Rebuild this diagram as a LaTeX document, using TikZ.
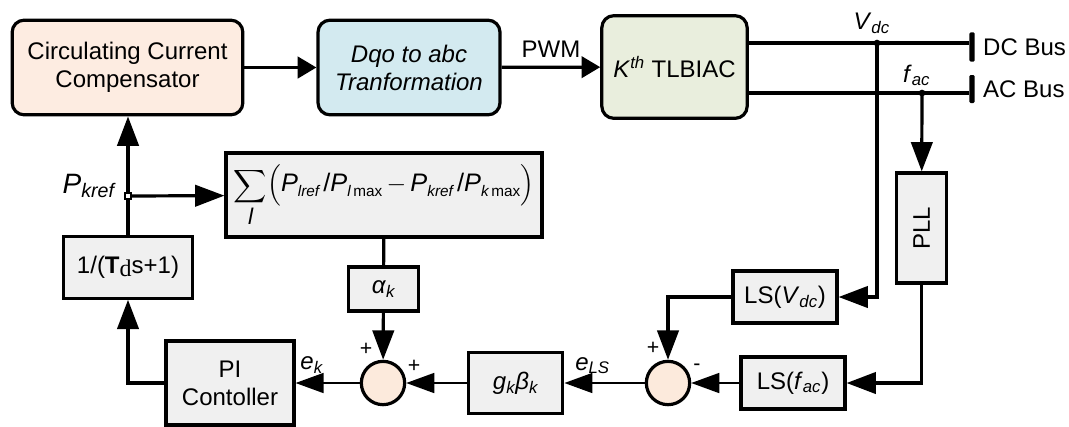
\documentclass[tikz,border=0pt]{standalone}
\usepackage{fix-cm}
\usepackage{amsmath}
\usepackage{fontspec}
\setmainfont{Liberation Sans}
\newfontfamily\tdfont{Liberation Serif}
\usepackage{graphicx}
\usetikzlibrary{arrows.meta, positioning, calc}
\definecolor{peach1}{RGB}{253, 236, 225}
\definecolor{cyan1}{RGB}{211, 234, 240}
\definecolor{olive1}{RGB}{233, 238, 221}
\definecolor{block1}{RGB}{240, 240, 240}
\definecolor{sumfill}{RGB}{252, 234, 220}
\newcommand{\itsub}[2]{\textit{#1}\textsubscript{\itshape #2}}
\newcommand{\psub}[2]{\textit{#1}\raisebox{-0.2em}{\fontsize{11.5}{12}\selectfont #2}}

\begin{document}
\begin{tikzpicture}[x=0.75pt, y=-0.75pt, font=\fontsize{18}{21}\selectfont,
  blk/.style={draw, line width=2.4pt, fill=block1, inner sep=0pt, align=center},
  topblk/.style={draw, line width=2.4pt, rounded corners=9pt, inner sep=0pt, align=center, minimum height=71pt},
  sumnode/.style={draw, circle, line width=2.4pt, fill=sumfill, minimum size=32.5pt, inner sep=0pt},
  arr/.style={line width=2.4pt, -{Triangle[length=22pt, width=16pt]}},
  tarr/.style={line width=1.2pt, -{Triangle[length=21pt, width=15pt]}},
  sarr/.style={line width=2.4pt, -{Triangle[length=14pt, width=16pt]}},
  busbar/.style={fill=black, rounded corners=1pt, minimum width=4pt, inner sep=0pt},
  sign/.style={font=\fontsize{16}{18}\selectfont, inner sep=0pt}]

  \useasboundingbox (0,0) rectangle (1069,426);

  % Top row
  \node[topblk, fill=peach1, minimum width=173pt] (ccc) at (127.5,67.5) {Circulating Current\\Compensator};
  \node[topblk, fill=cyan1, minimum width=136.5pt, font=\fontsize{18}{21}\selectfont\itshape] (dqo) at (409,67.5) {Dqo to abc\\Tranformation};
  \node[topblk, fill=olive1, minimum width=109pt, minimum height=77pt] (kth) at (674.5,67) {\textit{K}\textsuperscript{\itshape th} TLBIAC};

  % Buses
  \coordinate (vdc) at (877,43);
  \coordinate (fac) at (922,93);
  \node[busbar, minimum height=22pt] (dcbar) at (972,47) {};
  \node[busbar, minimum height=21pt] (acbar) at (972,89) {};
  \node[right=6pt of dcbar, inner sep=0pt] (dctxt) {DC Bus};
  \node[right=6pt of acbar, inner sep=0pt] (actxt) {AC Bus};
  \draw[line width=2.4pt] (kth.east |- vdc) -- (dcbar.west |- vdc);
  \draw[line width=2.4pt] (kth.east |- fac) -- (acbar.west |- fac);
  \node[above=7pt of vdc, xshift=-4pt, inner sep=0pt] (vdclbl) {\itsub{V}{dc}};
  \node[above=5pt of fac, xshift=-4pt, inner sep=0pt] (faclbl) {\itsub{f}{ac}};

  % Feedback blocks
  \node[blk, minimum width=38pt, minimum height=82.5pt] (pll) at (921.5,228) {\rotatebox{90}{PLL}};
  \node[blk, minimum width=78pt, minimum height=39pt] (lsv) at (785,297) {LS(\itsub{V}{dc})};
  \node[blk, minimum width=78pt, minimum height=39pt] (lsf) at (793,383) {LS(\itsub{f}{ac})};
  \node[sumnode] (sumb) at (668,383) {};
  \node[blk, minimum width=71pt, minimum height=46pt] (gain) at (515.5,383) {\itsub{g}{k}\textit{β}\textsubscript{\itshape k}};
  \node[sumnode] (suma) at (383,383) {};
  \node[blk, minimum width=96pt, minimum height=63pt] (pi) at (230,383) {PI\\Contoller};
  \node[blk, minimum width=96.75pt, minimum height=46pt] (lpf) at (128,267.5) {1/(\textbf{T}{\tdfont\raisebox{-2pt}{d}}s+1)};
  \node[blk, minimum width=237pt, minimum height=63pt, font=\fontsize{19}{22}\selectfont] (share) at (384,195)
    {{\fontsize{17}{20}\selectfont$\displaystyle\sum_{\mbox{\itshape l}}$}$\Bigl($\psub{P}{\itshape lref}\,/\psub{P}{\itshape l\,\upshape max}\,$-$\,\psub{P}{\itshape kref}\,/\psub{P}{\itshape k\,\upshape max}$\Bigr)$};
  \node[blk, minimum width=52pt, minimum height=33pt] (alpha) at (383.5,289) {\textit{α}\textsubscript{\itshape k}};

  % Signs at the summing points
  \node[sign] at (366,349) {+};
  \node[sign] at (414,366) {+};
  \node[sign] at (653,348) {+};
  \node[sign] at (697,367) {-};

  % Connections
  \draw[sarr] (ccc) -- (dqo);
  \draw[sarr] (dqo) -- node[above=3pt]{PWM} (kth);
  \draw[arr] (vdc) |- (lsv);
  \draw[arr] (fac) -- (pll);
  \draw[arr] (pll) |- (lsf);
  \draw[arr] (lsv) -| (sumb);
  \draw[tarr] (lsf) -- (sumb);
  \draw[tarr] (sumb) -- node[above=3pt, pos=0.65]{\itsub{e}{LS}} (gain);
  \draw[tarr] (gain) -- (suma);
  \draw[tarr] (suma) -- node[above=3pt, pos=0.75]{\itsub{e}{k}} (pi);
  \draw[arr] (pi) -| (lpf);
  \coordinate (pk) at (128,196);
  \draw[arr] (lpf) -- (lpf.north |- ccc.south);
  \draw[arr] (pk) -- (share);
  \draw[line width=2.4pt] (share) -- (alpha);
  \draw[arr] (alpha) -- (suma);
  \fill (vdc) circle (2.5pt) (fac) circle (2.5pt);
  \node[draw, fill=white, line width=1.2pt, minimum size=4.5pt, inner sep=0pt] (pkdot) at (pk) {};
  \node[anchor=base east, inner sep=0pt, font=\fontsize{21}{24}\selectfont] (pklbl) at (115,193) {\itsub{P}{kref}};
\end{tikzpicture}
\end{document}
